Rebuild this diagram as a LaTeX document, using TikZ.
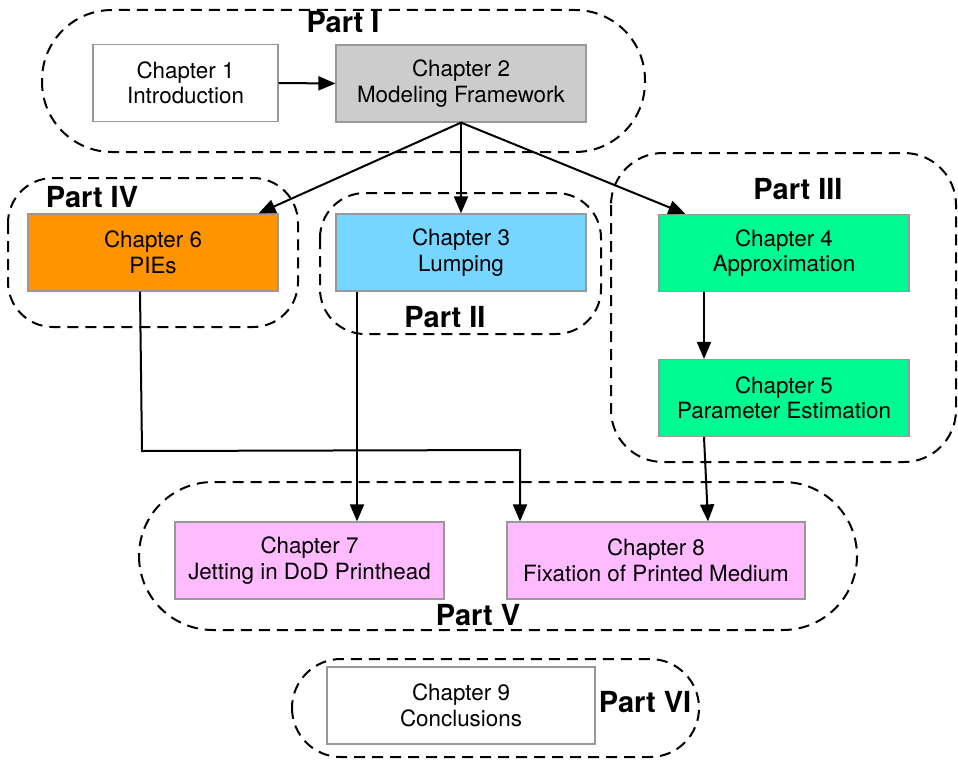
\documentclass[tikz,border=0pt]{standalone}
\usepackage{fontspec}
\setmainfont{TeX Gyre Heros}
\usetikzlibrary{arrows.meta}
\definecolor{ch2gray}{HTML}{CCCCCC}
\definecolor{ch6orange}{HTML}{FF9300}
\definecolor{ch3blue}{HTML}{76D6FF}
\definecolor{ch4green}{HTML}{00FA92}
\definecolor{ch7pink}{HTML}{FFBBFF}
\definecolor{boxborder}{HTML}{999999}
\begin{document}
\begin{tikzpicture}[x=1pt,y=-1pt,
  chap/.style={draw=boxborder, line width=1.2pt, minimum width=250pt, minimum height=77pt,
    align=center, inner sep=0pt, font=\fontsize{22.4}{25.5}\selectfont},
  partbox/.style={draw, line width=2pt, dash pattern=on 11pt off 7pt},
  plabel/.style={font=\fontsize{29}{32}\selectfont\bfseries, inner sep=0pt},
  arr/.style={line width=2pt, -{Triangle[length=17pt,width=14pt]}}]
\useasboundingbox (0,0) rectangle (958,760);

% dashed part outlines
\draw[partbox, rounded corners=70pt] (42,10) rectangle (645,152);
\draw[partbox, rounded corners=45pt] (8,178) rectangle (298,327);
\draw[partbox, rounded corners=45pt] (320,193) rectangle (601,334);
\draw[partbox, rounded corners=52pt] (611,153) rectangle (956,462);
\draw[partbox, rounded corners=74pt] (139,482) rectangle (857,630);
\draw[partbox, rounded corners=49pt] (292,659) rectangle (699,757);

% part labels
\node[plabel] (p1) at (343,22) {Part I};
\node[plabel] (p4) at (92,197) {Part IV};
\node[plabel] (p2) at (445,317) {Part II};
\node[plabel] (p3) at (798,189) {Part III};
\node[plabel] (p5) at (478,615) {Part V};
\node[plabel] (p6) at (645,702) {Part VI};

% chapters
\node[chap, minimum width=185pt, fill=white] (c1) at (185.5,83) {Chapter 1\\Introduction};
\node[chap, fill=ch2gray] (c2) at (461,83.5) {Chapter 2\\Modeling Framework};
\node[chap, fill=ch6orange] (c6) at (153,252.5) {Chapter 6\\PIEs};
\node[chap, fill=ch3blue] (c3) at (461,252.5) {Chapter 3\\Lumping};
\node[chap, fill=ch4green] (c4) at (784,253) {Chapter 4\\Approximation};
\node[chap, fill=ch4green] (c5) at (784,398) {Chapter 5\\Parameter Estimation};
\node[chap, minimum width=269pt, fill=ch7pink] (c7) at (309.5,560.5) {Chapter 7\\Jetting in DoD Printhead};
\node[chap, minimum width=298pt, fill=ch7pink] (c8) at (656,560.5) {Chapter 8\\Fixation of Printed Medium};
\node[chap, minimum width=268pt, fill=white] (c9) at (461,705.5) {Chapter 9\\Conclusions};

% connectors
\draw[arr] (c1.east) -- (c2.west);
\draw[arr] (c2.south) -- ([xshift=-20pt]c6.north east);
\draw[arr] (c2.south) -- (c3.north);
\draw[arr] (c2.south) -- ([xshift=27pt]c4.north west);
\draw[arr] ([xshift=-80pt]c4.south) -- ([xshift=-80pt]c5.north);
\coordinate (b1) at (142,451);
\coordinate (b2) at (520,450);
\draw[arr] ([xshift=-13pt]c6.south) -- (b1) -- (b2) -- ([xshift=-136pt]c8.north);
\draw[arr] ([xshift=-104pt]c3.south) -- ([xshift=47.5pt]c7.north);
\draw[arr] ([xshift=-80pt]c5.south) -- ([xshift=52pt]c8.north);
\end{tikzpicture}
\end{document}
